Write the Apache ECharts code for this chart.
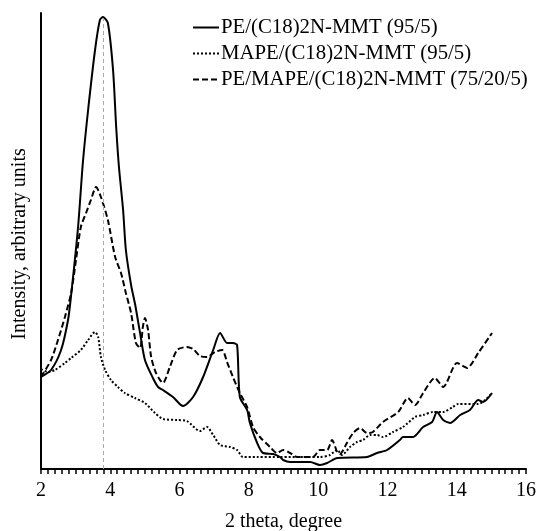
<!DOCTYPE html>
<html>
<head>
<meta charset="utf-8">
<script src="https://cdn.jsdelivr.net/npm/echarts@6/dist/echarts.min.js"></script>
<style>html,body{margin:0;padding:0;background:#fff}#c{width:537px;height:531px}</style>
</head>
<body>
<div id="c"></div>
<script>
// 2 theta (degree) and intensity (arbitrary units)
const peX = [2.00,2.29,2.58,2.78,2.87,3.07,3.21,3.36,3.56,3.70,3.79,3.93,4.08,4.17,4.25,4.37,4.45,4.60,4.72,4.86,5.00,5.23,5.38,5.52,5.81,6.10,6.39,6.68,6.97,7.17,7.37,7.54,7.66,7.74,7.95,8.03,8.24,8.41,8.70,8.90,8.99,9.19,9.77,10.05,10.26,10.55,11.41,11.70,11.99,12.36,12.45,12.74,13.03,13.29,13.43,13.61,13.81,14.10,14.38,14.62,14.76,15.02];
const peY = [92,99,119,149,174,242,307,359,419,449,452,446,399,342,302,259,219,184,164,136,109,91,82,79,72,63,72,92,119,136,126,126,124,72,59,46,26,16,15,12,9,7,7,4,6,11,12,16,19,29,32,32,42,47,57,49,46,54,59,69,67,76];

const mapeX = [2.00,2.20,2.40,2.69,2.87,3.15,3.36,3.56,3.65,3.73,3.85,4.02,4.22,4.42,4.71,5.00,5.29,5.52,5.93,6.21,6.59,6.79,6.97,7.17,7.46,7.66,7.83,8.24,8.90,9.77,10.05,10.34,10.55,10.69,10.92,11.12,11.30,11.50,11.70,11.87,12.16,12.45,12.80,13.03,13.32,13.61,13.89,14.04,14.62,14.82,15.02];
const mapeY = [100,97,99,106,111,119,129,137,132,112,99,89,82,76,71,66,56,50,49,48,38,42,34,24,22,19,12,12,12,12,12,14,19,14,22,27,29,34,34,32,37,42,52,54,57,57,62,65,65,69,76];

const blendX = [2.00,2.29,2.49,2.69,2.87,3.01,3.15,3.30,3.44,3.59,3.73,3.93,4.14,4.31,4.45,4.60,4.74,4.86,4.94,5.00,5.09,5.18,5.32,5.52,5.72,5.93,6.21,6.39,6.59,6.79,7.02,7.23,7.37,7.54,7.74,7.95,8.12,8.32,8.61,8.81,8.99,9.19,9.39,9.85,10.05,10.26,10.40,10.55,10.63,10.83,11.01,11.21,11.41,11.58,11.87,12.31,12.59,12.80,13.03,13.37,13.61,14.01,14.30,14.62,15.02];
const blendY = [92,109,129,152,176,209,242,256,269,282,272,249,212,196,176,156,126,121,142,151,139,112,96,86,102,119,122,120,113,112,117,119,107,92,76,62,42,32,22,16,19,16,12,12,19,19,29,17,15,26,36,41,36,37,47,57,71,64,76,91,82,106,101,116,136];

const seriesNames = ['PE/(C18)2N-MMT (95/5)','MAPE/(C18)2N-MMT (95/5)','PE/MAPE/(C18)2N-MMT (75/20/5)'];
const xTicks = [2,4,6,8,10,12,14,16];
const refLineX = 3.8;

const zip = (xs, ys) => xs.map((x, i) => [x, ys[i]]);
const font = 'Liberation Serif';
const clear = 'rgba(0,0,0,0)';

const chart = echarts.init(document.getElementById('c'), null, {renderer: 'canvas'});
chart.setOption({
  animation: false,
  backgroundColor: '#fff',
  grid: {left: 41, right: 11, top: 13, bottom: 62, containLabel: false, outerBoundsMode: 'none'},
  legend: {
    left: 192, top: 17, orient: 'vertical', itemWidth: 26, itemHeight: 12, itemGap: 5,
    align: 'left', padding: 0,
    textStyle: {fontFamily: font, fontSize: 20.8, color: '#000', padding: [0,0,0,-3]},
    data: seriesNames
  },
  xAxis: {
    type: 'value', min: xTicks[0], max: xTicks[xTicks.length-1], interval: 2,
    name: '2 theta, degree', nameLocation: 'middle', nameGap: 43,
    nameTextStyle: {fontFamily: font, fontSize: 20, color: '#000'},
    axisLine: {lineStyle: {color: '#000', width: 2}},
    axisTick: {show: true, inside: false, length: 5, lineStyle: {color: '#000', width: 1.5}},
    minorTick: {show: true, splitNumber: 10, length: 5, lineStyle: {color: '#000', width: 1.5}},
    axisLabel: {fontFamily: font, fontSize: 20, color: '#000', margin: 12},
    splitLine: {show: false}
  },
  yAxis: {
    type: 'value', min: 0, max: 456,
    name: 'Intensity, arbitrary units', nameLocation: 'middle', nameGap: 11,
    nameTextStyle: {fontFamily: font, fontSize: 20, color: '#000', padding: [0,6,0,0]},
    axisLine: {show: true, lineStyle: {color: '#000', width: 2}},
    axisTick: {show: false}, axisLabel: {show: false}, splitLine: {show: false}
  },
  series: [
    {
      name: seriesNames[0], type: 'line', data: zip(peX, peY), symbol: 'none', smooth: 0.25,
      lineStyle: {color: '#000', width: 2, type: 'solid'}, itemStyle: {color: clear}, z: 3,
      markLine: {
        silent: true, symbol: ['none','none'], label: {show: false},
        lineStyle: {color: '#aaa', width: 1, type: [4,3]},
        data: [[{coord: [refLineX, 0]}, {coord: [refLineX, 450]}]]
      }
    },
    {
      name: seriesNames[1], type: 'line', data: zip(mapeX, mapeY), symbol: 'none', smooth: 0.25,
      lineStyle: {color: '#000', width: 2, type: [2,2]}, itemStyle: {color: clear}
    },
    {
      name: seriesNames[2], type: 'line', data: zip(blendX, blendY), symbol: 'none', smooth: 0.25,
      lineStyle: {color: '#000', width: 2, type: [6,3]}, itemStyle: {color: clear}
    }
  ]
});
</script>
</body>
</html>
